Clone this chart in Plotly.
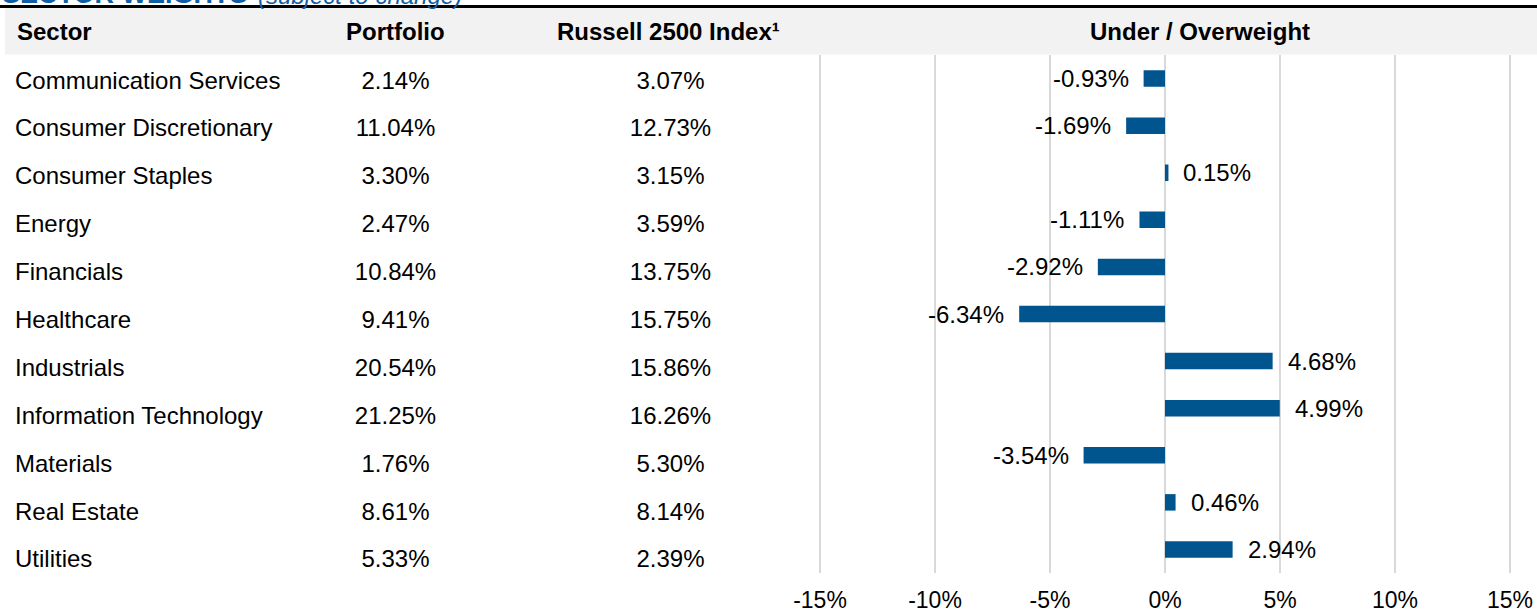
import plotly.graph_objects as go

# ---------------- data ----------------
sectors = [
    "Communication Services", "Consumer Discretionary", "Consumer Staples",
    "Energy", "Financials", "Healthcare", "Industrials",
    "Information Technology", "Materials", "Real Estate", "Utilities",
]
portfolio = [2.14, 11.04, 3.30, 2.47, 10.84, 9.41, 20.54, 21.25, 1.76, 8.61, 5.33]
index_w = [3.07, 12.73, 3.15, 3.59, 13.75, 15.75, 15.86, 16.26, 5.30, 8.14, 2.39]
under_over = [-0.93, -1.69, 0.15, -1.11, -2.92, -6.34, 4.68, 4.99, -3.54, 0.46, 2.94]
x_ticks = [-15, -10, -5, 0, 5, 10, 15]
x_tick_labels = ["-15%", "-10%", "-5%", "0%", "5%", "10%", "15%"]
headers = ["Sector", "Portfolio", "Russell 2500 Index\u00b9", "Under / Overweight"]
title_main = "SECTOR WEIGHTS"
title_sub = "(subject to change)"

# ---------------- layout helpers ----------------
W, H = 1537, 611
FONT = "Arial, Liberation Sans, sans-serif"
BAR = "#01558f"
TITLE_BLUE = "#0f5ea6"
PX_PER_UNIT = 23.0
X_PAD = 0.05  # small pad so the edge gridlines are drawn


def px(x):
    return x / W


def py(y):
    return 1 - y / H


fig = go.Figure()

# Bars
fig.add_trace(go.Bar(
    x=under_over, y=sectors, orientation="h",
    marker=dict(color=BAR, line=dict(width=0)),
    xaxis="x", yaxis="y", hoverinfo="skip", showlegend=False,
))

# Table text columns
pct = lambda v: f"{v:.2f}%"
fig.add_trace(go.Scatter(
    x=[15] * len(sectors), y=sectors, text=sectors, mode="text",
    textposition="middle right", textfont=dict(size=24, color="#000", family=FONT),
    xaxis="x2", yaxis="y2", hoverinfo="skip", showlegend=False, cliponaxis=False,
))
fig.add_trace(go.Scatter(
    x=[395.5] * len(sectors), y=sectors, text=[pct(v) for v in portfolio], mode="text",
    textposition="middle center", textfont=dict(size=24, color="#000", family=FONT),
    xaxis="x2", yaxis="y2", hoverinfo="skip", showlegend=False, cliponaxis=False,
))
fig.add_trace(go.Scatter(
    x=[670.5] * len(sectors), y=sectors, text=[pct(v) for v in index_w], mode="text",
    textposition="middle center", textfont=dict(size=24, color="#000", family=FONT),
    xaxis="x2", yaxis="y2", hoverinfo="skip", showlegend=False, cliponaxis=False,
))

annotations = []
# Bar value labels
for s, v in zip(sectors, under_over):
    annotations.append(dict(
        x=v, y=s, xref="x", yref="y", text=pct(v), showarrow=False,
        xanchor="left" if v >= 0 else "right", xshift=13 if v >= 0 else -13,
        font=dict(size=24, color="#000", family=FONT),
    ))

# Header labels
header_x = [(15, "left"), (395.5, "center"), (668, "center"), (1199.5, "center")]
for h, (hx, anc) in zip(headers, header_x):
    annotations.append(dict(
        x=px(hx), y=py(32), xref="paper", yref="paper", text=f"<b>{h}</b>",
        showarrow=False, xanchor=anc, yanchor="middle",
        font=dict(size=24, color="#000", family=FONT),
    ))

# Title (cut off at top)
annotations.append(dict(
    x=px(0), y=py(5), xref="paper", yref="paper", text=f"<b>{title_main}</b>",
    showarrow=False, xanchor="left", yanchor="bottom", yshift=-6,
    font=dict(size=27, color=TITLE_BLUE, family=FONT),
))
annotations.append(dict(
    x=px(256), y=py(5), xref="paper", yref="paper", text=f"<i>{title_sub}</i>",
    showarrow=False, xanchor="left", yanchor="bottom", yshift=-6,
    font=dict(size=24, color=TITLE_BLUE, family=FONT),
))

shapes = [
    dict(type="rect", xref="paper", yref="paper", x0=px(5), x1=1, y0=py(54.5), y1=py(8),
         fillcolor="#f2f2f2", line=dict(width=0), layer="below"),
    dict(type="line", xref="paper", yref="paper", x0=0, x1=1, y0=py(6.5), y1=py(6.5),
         line=dict(color="#000", width=3), layer="above"),
]

x_left = 820 - X_PAD * PX_PER_UNIT
x_right = 1510 + X_PAD * PX_PER_UNIT

fig.update_layout(
    template="none",
    width=W, height=H, autosize=False, margin=dict(l=0, r=0, t=0, b=0, pad=0),
    paper_bgcolor="white", plot_bgcolor="rgba(0,0,0,0)",
    font=dict(family=FONT, color="#000"),
    bargap=0.65, showlegend=False,
    xaxis=dict(
        domain=[px(x_left), px(x_right)], range=[-15 - X_PAD, 15 + X_PAD], anchor="y",
        tickvals=x_ticks, ticktext=x_tick_labels, tickfont=dict(size=23, color="#000"),
        showgrid=True, gridcolor="#d9d9d9", gridwidth=1.5, zeroline=False,
        showline=False, ticks="", fixedrange=True, automargin=False,
        ticklabelstandoff=11,
    ),
    yaxis=dict(
        domain=[py(573), py(55)], type="category", autorange="reversed", anchor="x",
        categoryorder="array", categoryarray=sectors, automargin=False,
        showticklabels=False, showgrid=False, zeroline=False, showline=False, fixedrange=True,
    ),
    xaxis2=dict(domain=[0, 1], range=[0, W], anchor="y2", visible=False,
                fixedrange=True, automargin=False),
    yaxis2=dict(
        domain=[py(588), py(56)], type="category", autorange="reversed", anchor="x2",
        categoryorder="array", categoryarray=sectors, visible=False, fixedrange=True,
        automargin=False,
    ),
    annotations=annotations, shapes=shapes,
)

fig.write_html(
    "out.html",
    config={"displayModeBar": False},
    post_script="document.body.style.margin='0';document.body.style.overflow='hidden';"
                "document.documentElement.style.overflow='hidden';",
)
